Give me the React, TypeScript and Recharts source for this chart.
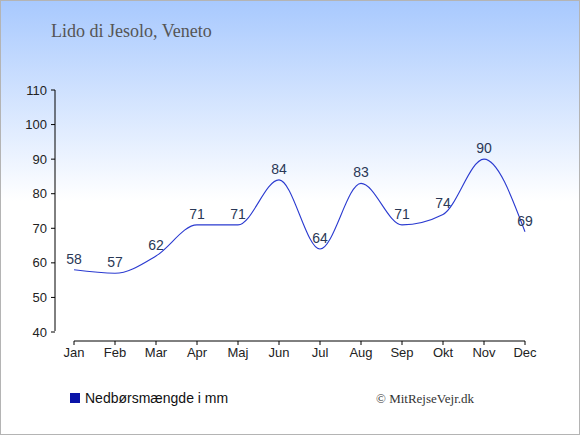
import React from "react";
import { LineChart, Line, XAxis, YAxis, LabelList, Legend } from "recharts";

const months = ["Jan", "Feb", "Mar", "Apr", "Maj", "Jun", "Jul", "Aug", "Sep", "Okt", "Nov", "Dec"];
const rainfall = [58, 57, 62, 71, 71, 84, 64, 83, 71, 74, 90, 69];
const yTicks = [40, 50, 60, 70, 80, 90, 100, 110];

const chartData = months.map((m, i) => ({ month: m, rain: rainfall[i] }));

const sans = "'Liberation Sans', Arial, sans-serif";
const serif = "'Liberation Serif', 'DejaVu Serif', serif";
const axisTick = { fontSize: 13, fill: "#222", fontFamily: sans };

const LegendContent: React.FC<any> = () => (
  <div style={{ display: "flex", alignItems: "center", fontFamily: sans, fontSize: 14, color: "#111" }}>
    <span style={{ width: 10, height: 10, background: "#0a14a8", marginRight: 5, display: "inline-block" }} />
    Nedbørsmængde i mm
  </div>
);

export default function App() {
  return (
    <div
      style={{
        position: "absolute", left: 0, top: 0, width: 580, height: 435,
        boxSizing: "border-box", border: "1px solid #b4b4b4",
        background: "linear-gradient(to bottom, #a8c9fe 0px, #ffffff 200px, #ffffff 435px)",
      }}
    >
      <div style={{ position: "absolute", left: 50, top: 20, fontFamily: serif, fontSize: 18, color: "#555" }}>
        Lido di Jesolo, Veneto
      </div>
      <div style={{ position: "absolute", right: 105, top: 390, fontFamily: serif, fontSize: 13, color: "#333" }}>
        © MitRejseVejr.dk
      </div>
      <div style={{ position: "absolute", left: -1, top: -1 }}>
        <LineChart width={580} height={435} data={chartData} margin={{ top: 90, right: 55, bottom: 48, left: 0 }}>
          <YAxis
            domain={[40, 110]}
            ticks={yTicks}
            interval={0}
            width={55}
            padding={{ top: 0, bottom: 9 }}
            tickSize={4}
            tickMargin={4}
            tick={axisTick}
            axisLine={{ stroke: "#000", strokeDasharray: "241 1000" }}
            tickLine={{ stroke: "#000" }}
          />
          <XAxis
            dataKey="month"
            padding={{ left: 19, right: 0 }}
            interval={0}
            tickSize={4}
            tickMargin={3}
            tick={axisTick}
            axisLine={{ stroke: "#000", strokeDasharray: "0 19 451 1000" }}
            tickLine={{ stroke: "#000" }}
          />
          <Legend
            content={<LegendContent />}
            wrapperStyle={{ position: "absolute", left: 70, top: 390, width: 250 }}
          />
          <Line
            type="monotone"
            dataKey="rain"
            stroke="#2a3ad0"
            strokeWidth={1.1}
            dot={false}
            isAnimationActive={false}
          >
            <LabelList dataKey="rain" position="top" offset={6} style={{ fontSize: 14, fill: "#2a3856", fontFamily: sans }} />
          </Line>
        </LineChart>
      </div>
    </div>
  );
}
